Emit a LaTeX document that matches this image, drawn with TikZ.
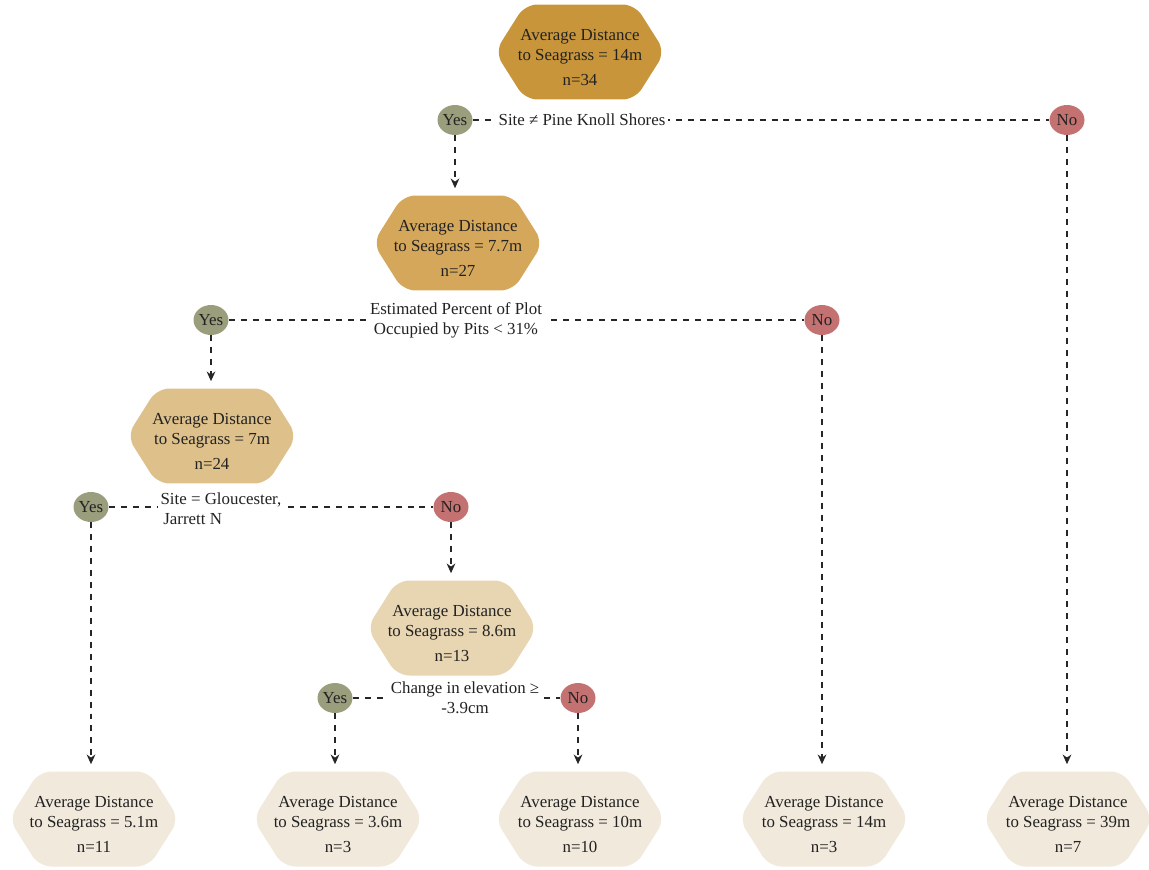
\documentclass[tikz,border=0pt]{standalone}
\usepackage{fontspec}
\setmainfont{Liberation Serif}
\usetikzlibrary{arrows.meta,shapes.geometric}
\definecolor{c1}{HTML}{C8953B}
\definecolor{c2}{HTML}{D5A75A}
\definecolor{c3}{HTML}{DEC08B}
\definecolor{c4}{HTML}{E8D5B2}
\definecolor{c5}{HTML}{F1E9DB}
\definecolor{yescol}{HTML}{9A9E7C}
\definecolor{nocol}{HTML}{C47171}
\definecolor{txt}{HTML}{222222}
\tikzset{
  hex/.style={minimum width=3.4cm, minimum height=1.9cm, inner sep=0pt, align=center,
    text=txt, font=\fontsize{9.6}{11.6}\selectfont,
    path picture={
      \fill[#1, rounded corners=7pt]
        (path picture bounding box.west)
        -- ([xshift=0.6cm]path picture bounding box.north west)
        -- ([xshift=-0.6cm]path picture bounding box.north east)
        -- (path picture bounding box.east)
        -- ([xshift=-0.6cm]path picture bounding box.south east)
        -- ([xshift=0.6cm]path picture bounding box.south west)
        -- cycle;
    }},
  yesbox/.style={ellipse, fill=yescol, minimum width=0.7cm, minimum height=0.6cm, inner sep=0pt,
    text=txt, font=\fontsize{9.6}{12}\selectfont},
  nobox/.style={ellipse, fill=nocol, minimum width=0.7cm, minimum height=0.6cm, inner sep=0pt,
    text=txt, font=\fontsize{9.6}{12}\selectfont},
  dline/.style={draw=black!85, line width=0.6pt, dash pattern=on 3.4pt off 3.4pt},
  darrow/.style={dline, -{Stealth[length=5.5pt,width=5pt]}, shorten >=4pt},
  cond/.style={fill=white, inner sep=1.5pt, text=txt, font=\fontsize{9.6}{11.5}\selectfont},
}
\newcommand{\hextext}[2]{\rule{0pt}{12.5pt}Average Distance\\to Seagrass = #1\\[2.6pt]n=#2}
\begin{document}
\begin{tikzpicture}[x=0.02cm, y=-0.02cm]
\useasboundingbox (0,0) rectangle (1149,869);
% decision nodes
\node[hex=c1] (n1) at (580,52) {\hextext{14m}{34}};
\node[hex=c2] (n2) at (458,243) {\hextext{7.7m}{27}};
\node[hex=c3] (n3) at (212,436) {\hextext{7m}{24}};
\node[hex=c4] (n4) at (452,628) {\hextext{8.6m}{13}};
% leaves
\node[hex=c5] (l1) at (94,819) {\hextext{5.1m}{11}};
\node[hex=c5] (l2) at (338,819) {\hextext{3.6m}{3}};
\node[hex=c5] (l3) at (580,819) {\hextext{10m}{10}};
\node[hex=c5] (l4) at (824,819) {\hextext{14m}{3}};
\node[hex=c5] (l5) at (1068,819) {\hextext{39m}{7}};
% yes / no
\node[yesbox] (y1) at (455,120) {Yes};
\node[nobox] (no1) at (1067,120) {No};
\node[yesbox] (y2) at (211,320) {Yes};
\node[nobox] (no2) at (822,320) {No};
\node[yesbox] (y3) at (91,507) {Yes};
\node[nobox] (no3) at (451,507) {No};
\node[yesbox] (y4) at (335,698) {Yes};
\node[nobox] (no4) at (578,698) {No};
% split lines
\draw[dline] (y1) -- (no1);
\draw[dline] (y2) -- (no2);
\draw[dline] (y3) -- (no3);
\draw[dline] (y4) -- (no4);
% split labels
\node[cond] (s1) at (582,120) {Site ≠ Pine Knoll Shores};
\node[cond, align=center] (s2) at (456,320) {Estimated Percent of Plot\\Occupied by Pits < 31\%};
\node[cond, align=left] (s3) at (221,509) {Site = Gloucester,\\\,Jarrett N};
\node[cond, align=center] (s4) at (465,698) {Change in elevation ≥\\-3.9cm};
% arrows
\draw[darrow] (y1.south) -- (y1.south |- n2.north);
\draw[darrow] (no1.south) -- (no1.south |- l5.north);
\draw[darrow] (y2.south) -- (y2.south |- n3.north);
\draw[darrow] (no2.south) -- (no2.south |- l4.north);
\draw[darrow] (y3.south) -- (y3.south |- l1.north);
\draw[darrow] (no3.south) -- (no3.south |- n4.north);
\draw[darrow] (y4.south) -- (y4.south |- l2.north);
\draw[darrow] (no4.south) -- (no4.south |- l3.north);
\end{tikzpicture}
\end{document}
